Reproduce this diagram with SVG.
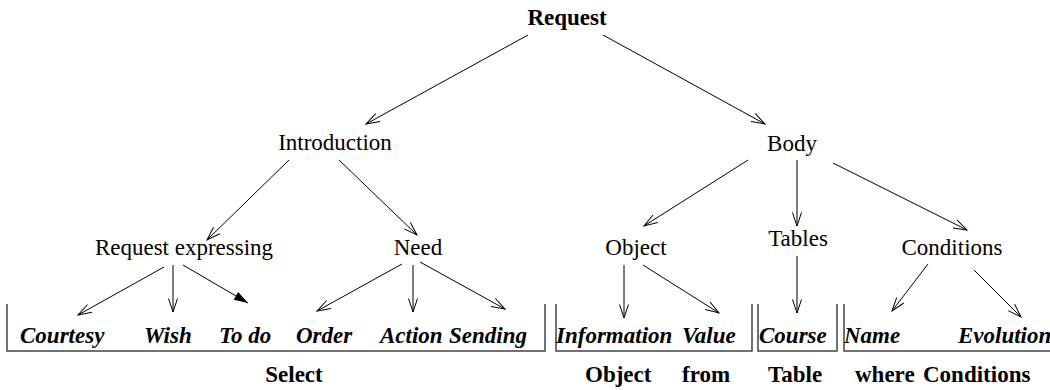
<svg xmlns="http://www.w3.org/2000/svg" width="1050" height="390" viewBox="0 0 1050 390">
<style>
text{font-family:"Liberation Serif","Times New Roman",serif;font-size:23px;fill:#000}
.b{font-weight:bold}
.bi{font-weight:bold;font-style:italic}
.m{text-anchor:middle}
.c line{stroke:#000;stroke-width:1;marker-end:url(#open)}
.c line.f{marker-end:url(#fill)}
.br{fill:none;stroke:#444;stroke-width:1.5}
</style>
<defs>
<marker id="open" markerWidth="15" markerHeight="11" refX="13.5" refY="5" orient="auto" markerUnits="userSpaceOnUse" overflow="visible">
<path d="M0,0.5 L13.5,5 L0,9.5" fill="none" stroke="#000" stroke-width="1"/>
</marker>
<marker id="fill" markerWidth="15" markerHeight="11" refX="14" refY="5" orient="auto" markerUnits="userSpaceOnUse" overflow="visible">
<path d="M0,0.5 L14,5 L0,9.5 z" fill="#000"/>
</marker>
</defs>
<rect width="1050" height="390" fill="#fff"/>
<g id="connectors" class="c">
<line x1="528" y1="35" x2="366" y2="124"/>
<line x1="603" y1="35" x2="765" y2="124"/>
<line x1="289" y1="160" x2="207" y2="240"/>
<line x1="339" y1="160" x2="417" y2="235"/>
<line x1="748" y1="160" x2="644" y2="226"/>
<line x1="797" y1="160" x2="797" y2="226"/>
<line x1="833" y1="163" x2="967" y2="230"/>
<line x1="164" y1="267" x2="78" y2="315"/>
<line x1="173" y1="265" x2="173" y2="312"/>
<line class="f" x1="183" y1="265" x2="248" y2="303"/>
<line x1="402" y1="264" x2="317" y2="311"/>
<line x1="413" y1="265" x2="413" y2="312"/>
<line x1="420" y1="262" x2="505" y2="309"/>
<line x1="624" y1="265" x2="624" y2="318"/>
<line x1="643" y1="265" x2="719" y2="313"/>
<line x1="797" y1="256" x2="797" y2="313"/>
<line x1="928" y1="264" x2="892" y2="311"/>
<line x1="974" y1="270" x2="1021" y2="317"/>
</g>
<g id="n-request"><text class="b m" x="567" y="25">Request</text></g>
<g id="n-introduction"><text class="m" x="335" y="150">Introduction</text></g>
<g id="n-body"><text class="m" x="792" y="151">Body</text></g>
<g id="n-request-expressing"><text class="m" x="184" y="255">Request expressing</text></g>
<g id="n-need"><text class="m" x="418" y="255">Need</text></g>
<g id="n-object"><text class="m" x="636" y="255">Object</text></g>
<g id="n-tables"><text class="m" x="798" y="246">Tables</text></g>
<g id="n-conditions"><text class="m" x="952" y="255">Conditions</text></g>
<g id="n-select-group">
<path class="br" d="M7,304 V351 H545 V304"/>
<text class="bi" x="20" y="343">Courtesy</text>
<text class="bi" x="144" y="343">Wish</text>
<text class="bi" x="219" y="343">To do</text>
<text class="bi" x="296" y="343">Order</text>
<text class="bi" x="380" y="343">Action</text>
<text class="bi" x="449" y="343">Sending</text>
<text class="b m" x="294" y="382">Select</text>
</g>
<g id="n-object-group">
<path class="br" d="M556,304 V351 H752 V304"/>
<text class="bi" x="556" y="343">Information</text>
<text class="bi" x="682" y="343">Value</text>
<text class="b" x="585" y="382">Object</text>
<text class="b" x="682" y="382">from</text>
</g>
<g id="n-course-group">
<path class="br" d="M758,304 V351 H837 V304"/>
<text class="bi" x="759" y="343">Course</text>
<text class="b" x="768" y="382">Table</text>
</g>
<g id="n-conditions-group">
<path class="br" d="M844,304 V351 H1050"/>
<text class="bi" x="844" y="343">Name</text>
<text class="bi" x="958" y="343">Evolution</text>
<text class="b" x="855" y="382">where</text>
<text class="b" x="923" y="382">Conditions</text>
</g>
</svg>
